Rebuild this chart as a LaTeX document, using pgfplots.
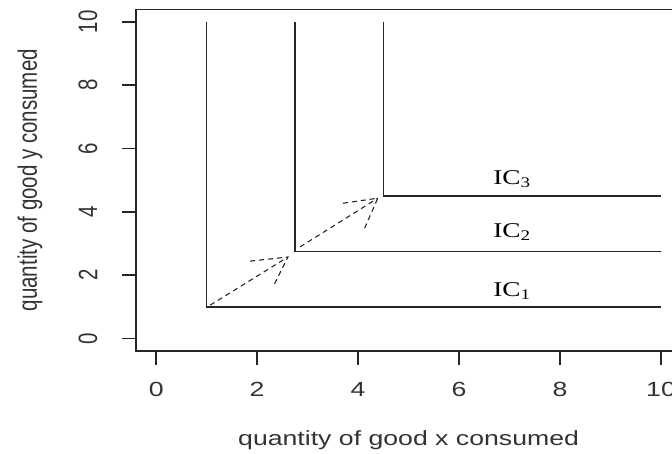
\documentclass[border=0pt]{standalone}
\usepackage{pgfplots}
\pgfplotsset{compat=1.18}
\usepackage{fontspec}
\setmainfont{Liberation Sans}
\newfontfamily\timesfont{Liberation Serif}

\begin{document}
\begin{tikzpicture}[font=\fontsize{20.5bp}{24bp}\selectfont]
\begin{axis}[
  at={(0,0)}, anchor=south west,
  scale only axis, width=545.2bp, height=341.7bp,
  xmin=-0.4, xmax=10.4, ymin=-0.4, ymax=10.4,
  xtick={0,2,...,10}, ytick={0,2,...,10},
  xtick pos=bottom, ytick pos=left, tick align=outside,
  major tick length=14bp,
  axis line style={black!85, line width=1.5bp},
  tick style={black!85, line width=1.5bp},
  /pgf/number format/assume math mode=true,
  xticklabel style={anchor=center, yshift=-24bp, xscale=1.3, text=black!80},
  yticklabel style={anchor=center, xshift=-34bp, rotate=90, yscale=1.3, text=black!80},
  xlabel={quantity of good x consumed},
  ylabel={quantity of good y consumed},
  every axis x label/.style={at={(rel axis cs:0.5,0)}, anchor=center, yshift=-89bp, xscale=1.3, text=black!80},
  every axis y label/.style={at={(rel axis cs:0,0.5)}, anchor=center, xshift=-106bp, rotate=90, yscale=1.3, text=black!80},
  clip=false,
  ic/.style={black!85, line width=1.6bp, no marks},
  arr/.style={black!85, line width=1.1bp, dash pattern=on 5bp off 4bp, no marks},
]
% indifference curves (L-shaped)
\addplot[ic] coordinates {(1,10) (1,1) (10,1)};
\addplot[ic] coordinates {(2.75,10) (2.75,2.75) (10,2.75)};
\addplot[ic] coordinates {(4.5,10) (4.5,4.5) (10,4.5)};
% dashed arrows
\addplot[arr] coordinates {(1.07,1.05) (2.61,2.57)};
\addplot[arr] coordinates {(1.86,2.44) (2.61,2.57) (2.33,1.68)};
\addplot[arr] coordinates {(2.85,2.89) (4.39,4.43)};
\addplot[arr] coordinates {(3.70,4.27) (4.39,4.43) (4.12,3.45)};
% labels
\node[anchor=base, xscale=1.3, font=\timesfont\fontsize{21bp}{24bp}\selectfont] at (axis cs:7.05,1.32) {IC\textsubscript{1}};
\node[anchor=base, xscale=1.3, font=\timesfont\fontsize{21bp}{24bp}\selectfont] at (axis cs:7.05,3.20) {IC\textsubscript{2}};
\node[anchor=base, xscale=1.3, font=\timesfont\fontsize{21bp}{24bp}\selectfont] at (axis cs:7.05,4.85) {IC\textsubscript{3}};
\end{axis}
\pgfresetboundingbox
\path[use as bounding box] (-136bp,-103bp) rectangle (536bp,351bp);
\end{tikzpicture}
\end{document}
